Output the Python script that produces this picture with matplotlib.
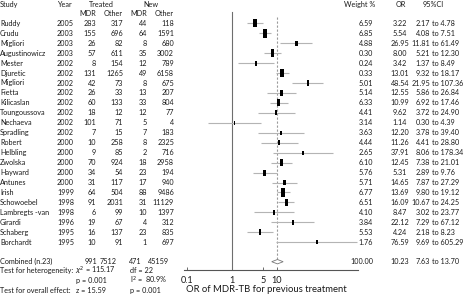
import numpy as np
import matplotlib.pyplot as plt
from matplotlib.path import Path

plt.rcParams['font.family'] = ['Lato', 'DejaVu Sans']

studies = ['Ruddy', 'Crudu', 'Migliori', 'Augustinowicz', 'Mester', 'Djuretic', 'Migliori',
           'Fietta', 'Kilicaslan', 'Toungoussova', 'Nechaeva', 'Spradling', 'Robert',
           'Helbling', 'Zwolska', 'Hayward', 'Antunes', 'Irish', 'Schowoebel',
           'Lambregts -van', 'Girardi', 'Schaberg', 'Borchardt']
years = [2005, 2003, 2003, 2003, 2002, 2002, 2002, 2002, 2002, 2002, 2002, 2002,
         2000, 2000, 2000, 2000, 2000, 1999, 1998, 1998, 1996, 1995, 1995]
treated_mdr = [283, 155, 26, 57, 8, 131, 42, 26, 60, 18, 101, 7, 10, 9, 70, 34, 31, 64, 91, 6, 19, 16, 10]
treated_other = [317, 696, 82, 611, 154, 1265, 73, 33, 133, 12, 71, 15, 258, 85, 924, 54, 117,
                 504, 2031, 99, 67, 137, 91]
new_mdr = [44, 64, 8, 35, 12, 49, 8, 13, 33, 12, 5, 7, 8, 2, 18, 23, 17, 88, 31, 10, 4, 23, 1]
new_other = [118, 1591, 680, 3002, 789, 6158, 675, 207, 804, 77, 4, 183, 2325, 716, 2958, 194,
             940, 9486, 11129, 1397, 312, 835, 697]
weight = ['6.59', '6.85', '4.88', '0.30', '0.24', '0.33', '5.01', '5.14', '6.33', '4.41', '3.14',
          '3.63', '4.44', '2.65', '6.10', '5.76', '5.71', '6.77', '6.51', '4.10', '3.84', '5.53', '1.76']
odds = [3.22, 5.54, 26.95, 8.00, 3.42, 13.01, 48.54, 12.55, 10.99, 9.62, 1.14, 12.20, 11.26,
        37.91, 12.45, 5.31, 14.65, 13.69, 16.09, 8.47, 22.12, 4.24, 76.59]
ci_lo = [2.17, 4.08, 11.81, 5.21, 1.37, 9.32, 21.95, 5.86, 6.92, 3.72, 0.30, 3.78, 4.41, 8.06,
         7.38, 2.89, 7.87, 9.80, 10.67, 3.02, 7.29, 2.18, 9.69]
ci_hi = [4.78, 7.51, 61.49, 12.30, 8.49, 18.17, 107.36, 26.84, 17.46, 24.90, 4.39, 39.40, 28.80,
         178.34, 21.01, 9.76, 27.29, 19.12, 24.25, 23.77, 67.12, 8.23, 605.29]
combined = {'n': 23, 'treated_mdr': 991, 'treated_other': 7512, 'new_mdr': 471, 'new_other': 45159,
            'weight': '100.00', 'or': 10.23, 'lo': 7.63, 'hi': 13.70}
ticks = [0.1, 1, 5, 10]

W, H = 472, 296
fig = plt.figure(figsize=(W / 100, H / 100), dpi=100)

# rows are spaced about 10 px, first study row at y=23 px
ROW0, DROW = 23.3, 9.95


def ry(px):
    return (px - ROW0) / DROW


FS = 5.2
TC = '#1a1a1a'

# text layer: x in pixels, y in rows
tax = fig.add_axes([0, 0, 1, 1])
tax.set_xlim(0, W)
tax.set_ylim(ry(H), ry(0))
tax.axis('off')


def t(x, y, s, ha='left', **kw):
    tax.text(x, y, s, ha=ha, va='center', fontsize=kw.pop('fs', FS), color=TC, **kw)


hy, sy = ry(4.5), ry(13.5)
t(0, hy, 'Study')
t(57, hy, 'Year')
t(101, hy, 'Treated', ha='center')
t(151, hy, 'New', ha='center')
t(96, sy, 'MDR', ha='right')
t(123, sy, 'Other', ha='right')
t(147, sy, 'MDR', ha='right')
t(174, sy, 'Other', ha='right')
t(375, hy, 'Weight %', ha='right')
t(401, hy, 'OR', ha='center')
t(433, hy, '95%CI', ha='center')

for i, name in enumerate(studies):
    t(0, i, name)
    t(57, i, str(years[i]))
    t(96, i, str(treated_mdr[i]), ha='right')
    t(123, i, str(treated_other[i]), ha='right')
    t(147, i, str(new_mdr[i]), ha='right')
    t(174, i, str(new_other[i]), ha='right')
    t(373, i, weight[i], ha='right')
    t(400, i, f'{odds[i]:.2f}', ha='center')
    t(430, i, f'{ci_lo[i]:.2f}', ha='right')
    t(432, i, f'to {ci_hi[i]:.2f}')

cr = ry(261.7)
t(0, cr, f"Combined (n.{combined['n']})")
t(97, cr, str(combined['treated_mdr']), ha='right')
t(117, cr, str(combined['treated_other']), ha='right')
t(142, cr, str(combined['new_mdr']), ha='right')
t(169, cr, str(combined['new_other']), ha='right')
t(373, cr, combined['weight'], ha='right')
t(400, cr, f"{combined['or']:.2f}", ha='center')
t(430, cr, f"{combined['lo']:.2f}", ha='right')
t(432, cr, f"to {combined['hi']:.2f}")

r1, r2, r3 = ry(270.7), ry(280.7), ry(290.7)
t(0, r1, 'Test for heterogeneity:')
t(75, r1, r'$\chi^2$ = 115.17')
t(76, r2, 'p = 0.001')
t(130, r1, 'df = 22')
t(130, r2, r'I$^2$ =  80.9%')
t(0, r3, 'Test for overall effect:')
t(76, r3, 'z = 15.59')
t(130, r3, 'p = 0.001')

# forest panel, log scale (OR=1 at x=232 px, 45 px per decade)
PX1, PXDEC = 232, 45
xmin, xmax = 0.0858, 620
left = PX1 + PXDEC * np.log10(xmin)
right = PX1 + PXDEC * np.log10(xmax)
AXB = 270
ax = fig.add_axes([left / W, 1 - AXB / H, (right - left) / W, AXB / H])
ax.patch.set_visible(False)
ax.set_xscale('log')
ax.set_xlim(xmin, xmax)
ax.set_ylim(ry(AXB), ry(0))
for s in ['top', 'left', 'right']:
    ax.spines[s].set_visible(False)
ax.spines['bottom'].set_color('#555555')
ax.spines['bottom'].set_linewidth(0.8)
ax.set_yticks([])
ax.set_xticks(ticks)
ax.set_xticklabels(['0.1', '1', '5', '10'])
ax.minorticks_off()
ax.tick_params(axis='x', direction='in', length=2.5, width=0.6, color='#555555',
               labelsize=6.6, labelcolor=TC, pad=4)

ax.plot([1, 1], [ry(11.7), ry(AXB)], color='#6e6e6e', lw=0.8)
ax.plot([combined['or']] * 2, [ry(17), ry(259)], color='#9a9a9a', lw=0.8, dashes=(2, 1.6))

rows = np.arange(len(studies))
ax.hlines(rows, ci_lo, ci_hi, color='#b4b4b4', lw=0.8)

# marker size from inverse variance of the log OR
se = (np.log(ci_hi) - np.log(ci_lo)) / 3.92
w = 1 / se ** 2
hgt = 2.0 + 4.6 * np.sqrt(w / w.max())
rect = Path([(-0.22, -0.5), (0.22, -0.5), (0.22, 0.5), (-0.22, 0.5), (-0.22, -0.5)],
            [Path.MOVETO, Path.LINETO, Path.LINETO, Path.LINETO, Path.CLOSEPOLY])
ax.scatter(odds, rows, s=hgt ** 2, marker=rect, color='black', linewidths=0, zorder=3)

cy = ry(261.7)
ax.fill([combined['lo'], combined['or'], combined['hi'], combined['or']],
        [cy, cy - 0.22, cy, cy + 0.22], facecolor='white', edgecolor='#777777', lw=0.6, zorder=3)

t(266, ry(290), 'OR of MDR-TB for previous treatment', ha='center', fs=6.8)

fig.savefig('out.png', dpi=100)
